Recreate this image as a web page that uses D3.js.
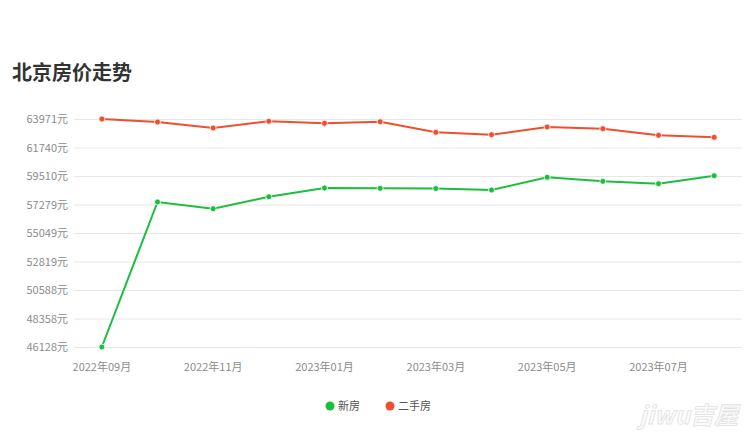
<!DOCTYPE html>
<html>
<head>
<meta charset="utf-8">
<script src="https://cdn.jsdelivr.net/npm/d3@7"></script>
<style>
  body { margin: 0; background: #fff; }
  svg { display: block; font-family: "Noto Sans CJK SC", "Noto Sans", sans-serif; }
</style>
</head>
<body>
<div id="chart"></div>
<script>
// data
const months = ["2022年09月", "2022年10月", "2022年11月", "2022年12月", "2023年01月", "2023年02月",
  "2023年03月", "2023年04月", "2023年05月", "2023年06月", "2023年07月", "2023年08月"];
const newHouse = [46128, 57475, 56951, 57890, 58571, 58548, 58532, 58414, 59408, 59095, 58908, 59534];
const secondHand = [63971, 63736, 63267, 63791, 63635, 63760, 62930, 62743, 63345, 63212, 62696, 62539];
const yTicks = [46128, 48358, 50588, 52819, 55049, 57279, 59510, 61740, 63971];
const xLabels = ["2022年09月", "2022年11月", "2023年01月", "2023年03月", "2023年05月", "2023年07月"];

const width = 756, height = 448;
const plotLeft = 74, plotRight = 742, plotTop = 119, plotBottom = 347;

const svg = d3.select("#chart").append("svg")
  .attr("width", width)
  .attr("height", height);

// title
svg.append("text")
  .attr("x", 12)
  .attr("y", 80)
  .attr("font-size", 20)
  .attr("font-weight", "bold")
  .attr("fill", "#333")
  .text("北京房价走势");

const x = d3.scaleBand().domain(months).range([plotLeft, plotRight]);
const y = d3.scaleLinear().domain([yTicks[0], yTicks[yTicks.length - 1]]).range([plotBottom, plotTop]);

// grid + y labels
const yAxis = svg.append("g")
  .attr("transform", "translate(" + plotLeft + ",0)")
  .call(d3.axisLeft(y).tickValues(yTicks).tickSize(-(plotRight - plotLeft)).tickPadding(6).tickFormat(d => d + "元"));
yAxis.select(".domain").remove();
yAxis.selectAll(".tick line").attr("stroke", "#e6e6e6");
yAxis.selectAll(".tick text")
  .attr("fill", "#8c8c8c")
  .attr("font-size", 11)
  .style("font-family", "'Noto Sans CJK SC', sans-serif");

// x labels
const xAxis = svg.append("g")
  .attr("transform", "translate(0," + plotBottom + ")")
  .call(d3.axisBottom(x).tickValues(xLabels).tickSize(0).tickPadding(16));
xAxis.select(".domain").remove();
xAxis.selectAll(".tick text")
  .attr("fill", "#8c8c8c")
  .attr("font-size", 11)
  .style("font-family", "'Noto Sans CJK SC', sans-serif");

const series = [
  { name: "新房", values: newHouse, color: "#1cbf3d" },
  { name: "二手房", values: secondHand, color: "#ef4f2c" }
];

const line = d3.line()
  .x((d, i) => x(months[i]) + x.bandwidth() / 2)
  .y(d => y(d));

series.forEach(s => {
  svg.append("path")
    .datum(s.values)
    .attr("fill", "none")
    .attr("stroke", s.color)
    .attr("stroke-width", 2)
    .attr("d", line);

  svg.append("g").selectAll("circle")
    .data(s.values)
    .enter()
    .append("circle")
    .attr("cx", (d, i) => x(months[i]) + x.bandwidth() / 2)
    .attr("cy", d => y(d))
    .attr("r", 3)
    .attr("fill", s.color)
    .attr("stroke", "#fff")
    .attr("stroke-width", 0.8);
});

// legend
const legend = svg.append("g");
const legendX = [330, 390];
series.forEach((s, i) => {
  legend.append("circle")
    .attr("cx", legendX[i])
    .attr("cy", 406)
    .attr("r", 4.5)
    .attr("fill", s.color);
  legend.append("text")
    .attr("x", legendX[i] + 8)
    .attr("y", 410)
    .attr("font-size", 11)
    .attr("fill", "#555")
    .text(s.name);
});

// watermark
svg.append("text")
  .attr("x", 738)
  .attr("y", 424)
  .attr("text-anchor", "end")
  .attr("font-size", 24)
  .attr("font-style", "italic")
  .attr("font-weight", "bold")
  .attr("fill", "#fbfbfb")
  .attr("stroke", "#e2e2e2")
  .attr("stroke-width", 0.8)
  .text("jiwu吉屋");
</script>
</body>
</html>
